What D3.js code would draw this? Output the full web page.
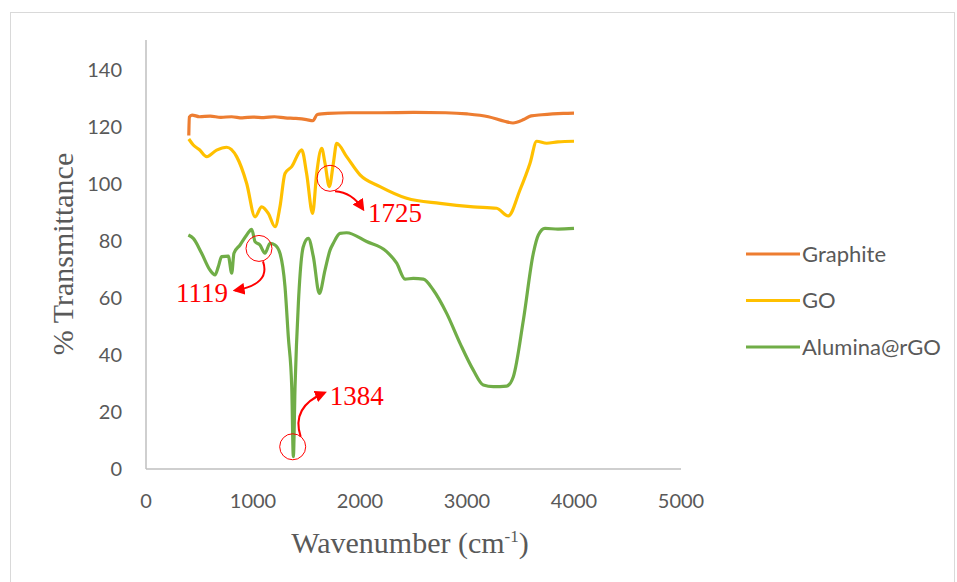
<!DOCTYPE html>
<html lang="en">
<head>
<meta charset="UTF-8">
<title>FTIR spectra</title>
<style>
* { margin: 0; padding: 0; }
body { background: #fff; width: 957px; height: 582px; overflow: hidden; }
svg { display: block; }
.tick-label { font-family: Lato, "Open Sans", sans-serif; font-size: 20px; fill: #595959; }
.axis-title { font-family: "Liberation Serif", "Times New Roman", serif; font-size: 30px; fill: #595959; }
.legend-text { font-family: Lato, "Open Sans", sans-serif; font-size: 22px; fill: #595959; }
.note { font-family: "Liberation Serif", "Times New Roman", serif; font-size: 27px; fill: #ff0000; }
</style>
</head>
<body>
<div id="chart"></div>
<script src="https://d3js.org/d3.v7.min.js"></script>
<script>
// Values: [wavenumber cm-1, % transmittance]
var graphite = [
	[400, 117], [405, 123.5], [430, 124.2], [500, 123.6], [600, 123.8], [700, 123.4],
	[800, 123.6], [900, 123.2], [1000, 123.5], [1100, 123.3], [1200, 123.6], [1300, 123.2],
	[1400, 123.0], [1500, 122.6], [1560, 122.2], [1600, 124.4], [1700, 124.8], [1900, 125.0],
	[2200, 125.0], [2500, 125.1], [2800, 125.0], [3000, 124.6], [3200, 123.6], [3350, 122.0],
	[3430, 121.4], [3530, 122.6], [3600, 123.9], [3700, 124.3], [3800, 124.6], [3900, 124.8], [4000, 124.9]
];
var go = [
	[400, 115.8], [442, 113.7], [500, 112.0], [567, 109.6], [660, 111.9], [754, 112.9], [847, 109.6],
	[941, 100.2], [1019, 88.5], [1081, 92.0], [1143, 89.7], [1206, 85.0], [1252, 92.0],
	[1299, 103.7], [1362, 106.1], [1455, 112.0], [1501, 103.7], [1557, 89.7], [1595, 103.7],
	[1642, 112.5], [1673, 107.3], [1713, 99.1], [1751, 107.3], [1782, 114.3], [1875, 109.6],
	[2000, 103.2], [2187, 99.1], [2436, 95.0], [2748, 93.2], [3059, 92.0], [3277, 91.5],
	[3386, 88.8], [3495, 97.9], [3589, 107.3], [3651, 115.0], [3745, 114.3], [3850, 114.8], [4000, 115.0]
];
var alumina = [
	[396, 82.1], [442, 80.9], [520, 75.7], [598, 69.8], [645, 68.1], [676, 71.0], [707, 74.5],
	[769, 74.7], [801, 68.7], [822, 75.7], [879, 78.6], [941, 82.1], [988, 84.1], [1019, 79.8],
	[1065, 78.6], [1112, 75.7], [1159, 79.2], [1206, 78.6], [1252, 75.7], [1299, 64.0],
	[1330, 46.4], [1362, 28.9], [1377, 4.3], [1393, 28.9], [1424, 58.1], [1470, 78.0],
	[1517, 80.9], [1564, 74.5], [1620, 61.6], [1673, 69.8], [1720, 76.8], [1751, 79.2],
	[1813, 82.7], [1875, 82.9], [2062, 79.8], [2249, 76.3], [2343, 72.2], [2421, 66.6],
	[2498, 66.9], [2592, 66.6], [2685, 62.8], [2810, 54.6], [2935, 44.1], [3059, 34.7],
	[3152, 29.5], [3246, 28.9], [3371, 29.1], [3433, 32.4], [3527, 52.3], [3620, 75.7],
	[3667, 82.1], [3729, 84.4], [3850, 84.2], [4000, 84.4]
];
var seriesNames = ["Graphite", "GO", "Alumina@rGO"];
var seriesColors = ["#ED7D31", "#FFC000", "#70AD47"];
var xTicks = [0, 1000, 2000, 3000, 4000, 5000];
var yTicks = [0, 20, 40, 60, 80, 100, 120, 140];
// marked peaks: circle centre [wavenumber, transmittance] and label
var peaks = [
	{ label: "1725", at: [1720, 102] },
	{ label: "1119", at: [1056, 77.4] },
	{ label: "1384", at: [1371, 7.8] }
];

var width = 957, height = 582;
var svg = d3.select("#chart").append("svg").attr("width", width).attr("height", height);

svg.append("rect")
	.attr("x", 10.5).attr("y", 12.5).attr("width", 944).attr("height", 620)
	.attr("fill", "none").attr("stroke", "#d9d9d9");

var x = d3.scaleLinear().domain([0, 5000]).range([146, 681]);
var y = d3.scaleLinear().domain([0, 140]).range([469, 70]);

// axes (Excel style: plain grey lines, no tick marks)
var axisG = svg.append("g");
axisG.append("line")
	.attr("x1", x(0)).attr("x2", x(0)).attr("y1", y(0)).attr("y2", 40)
	.attr("stroke", "#bfbfbf").attr("stroke-width", 1.5);
axisG.append("line")
	.attr("x1", x(0)).attr("x2", x(5000)).attr("y1", y(0)).attr("y2", y(0))
	.attr("stroke", "#bfbfbf").attr("stroke-width", 1.5);

axisG.selectAll("text.ytick").data(yTicks).join("text")
	.attr("class", "tick-label ytick")
	.attr("x", 122).attr("y", function(d) { return y(d); })
	.attr("dy", "0.35em").attr("text-anchor", "end")
	.text(function(d) { return d; });

axisG.selectAll("text.xtick").data(xTicks).join("text")
	.attr("class", "tick-label xtick")
	.attr("x", function(d) { return x(d); }).attr("y", 501)
	.attr("dy", "0.35em").attr("text-anchor", "middle")
	.text(function(d) { return d; });

svg.append("text")
	.attr("class", "axis-title")
	.attr("transform", "translate(73,254) rotate(-90)")
	.attr("text-anchor", "middle")
	.text("% Transmittance");

var xt = svg.append("text")
	.attr("class", "axis-title")
	.attr("x", 410).attr("y", 553)
	.attr("text-anchor", "middle");
xt.append("tspan").text("Wavenumber (cm");
xt.append("tspan").attr("font-size", "17px").attr("dy", "-11").text("-1");
xt.append("tspan").attr("dy", "11").text(")");

var line = d3.line()
	.x(function(d) { return x(d[0]); })
	.y(function(d) { return y(d[1]); })
	.curve(d3.curveMonotoneX);

var data = [graphite, go, alumina];
svg.append("g").selectAll("path").data(data).join("path")
	.attr("d", line)
	.attr("fill", "none")
	.attr("stroke", function(d, i) { return seriesColors[i]; })
	.attr("stroke-width", 3.2)
	.attr("stroke-linejoin", "round");

// legend
var legend = svg.append("g").selectAll("g").data(seriesNames).join("g")
	.attr("transform", function(d, i) { return "translate(746," + (254 + i * 46.5) + ")"; });
legend.append("line")
	.attr("x1", 0).attr("x2", 54).attr("y1", 0).attr("y2", 0)
	.attr("stroke", function(d, i) { return seriesColors[i]; })
	.attr("stroke-width", 3);
legend.append("text")
	.attr("class", "legend-text")
	.attr("x", 56).attr("dy", "0.35em")
	.text(function(d) { return d; });

// peak annotations
var defs = svg.append("defs");
defs.append("marker")
	.attr("id", "arrowhead")
	.attr("viewBox", "0 -5 10 10")
	.attr("refX", 8).attr("refY", 0)
	.attr("markerWidth", 6).attr("markerHeight", 6)
	.attr("orient", "auto")
	.append("path").attr("d", "M0,-5L10,0L0,5Z").attr("fill", "#ff0000");

var noteG = svg.append("g");
peaks.forEach(function(p) {
	var cx = x(p.at[0]), cy = y(p.at[1]);
	noteG.append("circle")
		.attr("cx", cx).attr("cy", cy).attr("r", 13)
		.attr("fill", "none").attr("stroke", "#ff0000").attr("stroke-width", 1);
	var path, tx, ty, anchor;
	if (p.label === "1725") {
		path = "M" + (cx + 5) + "," + (cy + 13) + " Q" + (cx + 22) + "," + (cy + 14) + " " + (cx + 33) + "," + (cy + 31);
		tx = cx + 38; ty = cy + 44; anchor = "start";
	} else if (p.label === "1119") {
		path = "M" + (cx + 4) + "," + (cy + 13) + " Q" + (cx + 12) + "," + (cy + 36) + " " + (cx - 24) + "," + (cy + 42);
		tx = cx - 31; ty = cy + 54; anchor = "end";
	} else {
		path = "M" + (cx + 8) + "," + (cy - 10) + " Q" + (cx - 2) + "," + (cy - 40) + " " + (cx + 32) + "," + (cy - 54);
		tx = cx + 37; ty = cy - 42; anchor = "start";
	}
	noteG.append("path")
		.attr("d", path)
		.attr("fill", "none").attr("stroke", "#ff0000").attr("stroke-width", 2)
		.attr("marker-end", "url(#arrowhead)");
	noteG.append("text")
		.attr("class", "note")
		.attr("x", tx).attr("y", ty)
		.attr("text-anchor", anchor)
		.text(p.label);
});
</script>
</body>
</html>
